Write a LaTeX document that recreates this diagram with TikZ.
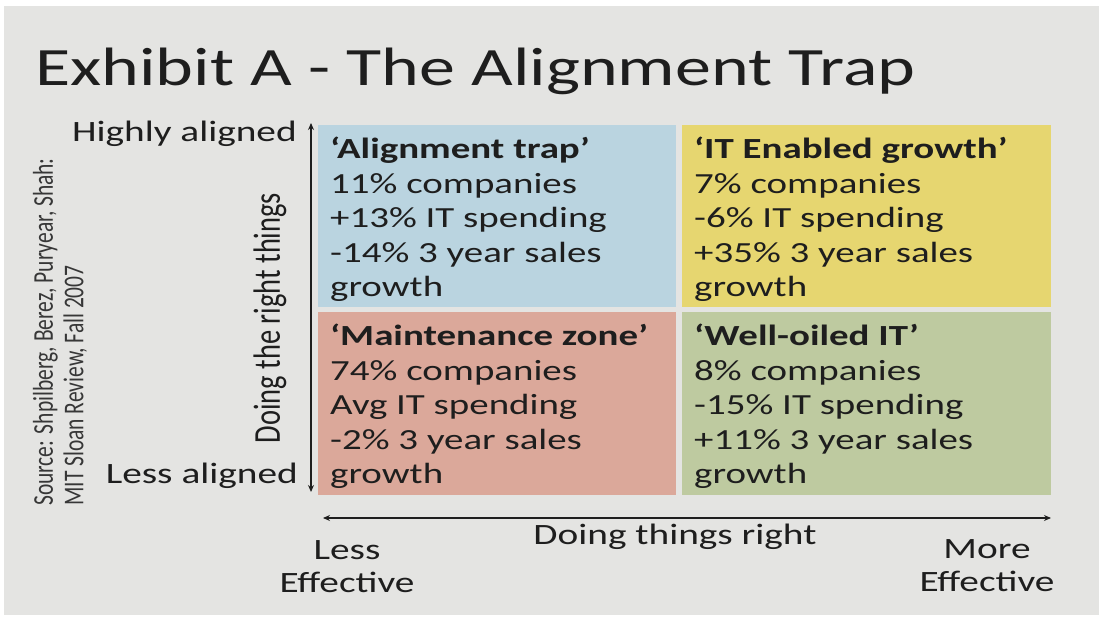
\documentclass[tikz,border=0pt]{standalone}
\usepackage{fontspec}
\usepackage{graphicx}
\setmainfont{Carlito}[FakeStretch=1.333]
\newfontfamily\rotfont{Carlito}
\usetikzlibrary{arrows.meta}
\definecolor{slidebg}{RGB}{228,228,226}
\definecolor{qblue}{RGB}{186,212,224}
\definecolor{qyellow}{RGB}{230,214,112}
\definecolor{qred}{RGB}{219,168,154}
\definecolor{qgreen}{RGB}{190,202,160}
\definecolor{ink}{RGB}{30,30,30}
\definecolor{srcink}{RGB}{55,55,55}
\tikzset{
  qtext/.style={anchor=base west, inner sep=0pt, align=left, text=ink,
    font=\fontsize{29.2}{34.6}\selectfont},
  lbl/.style={inner sep=0pt, text=ink, font=\fontsize{29.5}{34}\selectfont},
  axis/.style={line width=1.9pt, draw=ink, {Stealth[length=7pt,width=6pt]}-{Stealth[length=7pt,width=6pt]}}
}
\begin{document}
\begin{tikzpicture}[x=1pt,y=-1pt]
\useasboundingbox (0,0) rectangle (1101,617);
\fill[white] (0,0) rectangle (1101,617);
\fill[slidebg] (4,6) rectangle (1099,615);
% title
\node[anchor=base west, inner sep=0pt, text=ink, font=\fontsize{54}{60}\selectfont] (title) at (35,86) {Exhibit A - The Alignment Trap};
% quadrants
\fill[qblue] (318,125) rectangle (676,307);
\fill[qyellow] (682,125) rectangle (1051,307);
\fill[qred] (318,312) rectangle (676,495);
\fill[qgreen] (682,312) rectangle (1051,495);
\node[qtext] (q1) at (330,297) {\textbf{‘Alignment trap’}\\11\% companies\\+13\% IT spending\\-14\% 3 year sales\\growth};
\node[qtext] (q2) at (694,297) {\textbf{‘IT Enabled growth’}\\7\% companies\\-6\% IT spending\\+35\% 3 year sales\\growth};
\node[qtext] (q3) at (330,484) {\textbf{‘Maintenance zone’}\\74\% companies\\Avg IT spending\\-2\% 3 year sales\\growth};
\node[qtext] (q4) at (694,484) {\textbf{‘Well-oiled IT’}\\8\% companies\\-15\% IT spending\\+11\% 3 year sales\\growth};
% vertical axis
\coordinate (vtop) at (311,123);
\coordinate (vbot) at (311,492);
\draw[axis] (vbot) -- (vtop);
\node[lbl, anchor=base east] (hi) at (297,142) {Highly aligned};
\node[lbl, anchor=base east] (lo) at (298,484) {Less aligned};
\node[lbl, rotate=90] (vlab) at (270,318) {\scalebox{1}[1.333]{\rotfont\fontsize{28.5}{34}\selectfont Doing the right things}};
% horizontal axis
\coordinate (hl) at (323,518);
\coordinate (hr) at (1051,518);
\draw[axis] (hl) -- (hr);
\node[lbl] (hlab) at (675,537) {Doing things right};
\node[lbl, align=center, font=\fontsize{29.5}{33}\selectfont] (less) at (347,567) {Less\\Effective};
\node[lbl, align=center, font=\fontsize{29.5}{33}\selectfont] (more) at (987,566) {More\\Effective};
% source
\node[inner sep=0pt, rotate=90, anchor=west, text=srcink] (src) at (62,506) {\scalebox{1}[1.333]{\rotfont\fontsize{21.5}{23}\selectfont\begin{tabular}{@{}l@{}}Source: Shpilberg, Berez, Puryear, Shah:\\MIT Sloan Review, Fall 2007\end{tabular}}};
\end{tikzpicture}
\end{document}
